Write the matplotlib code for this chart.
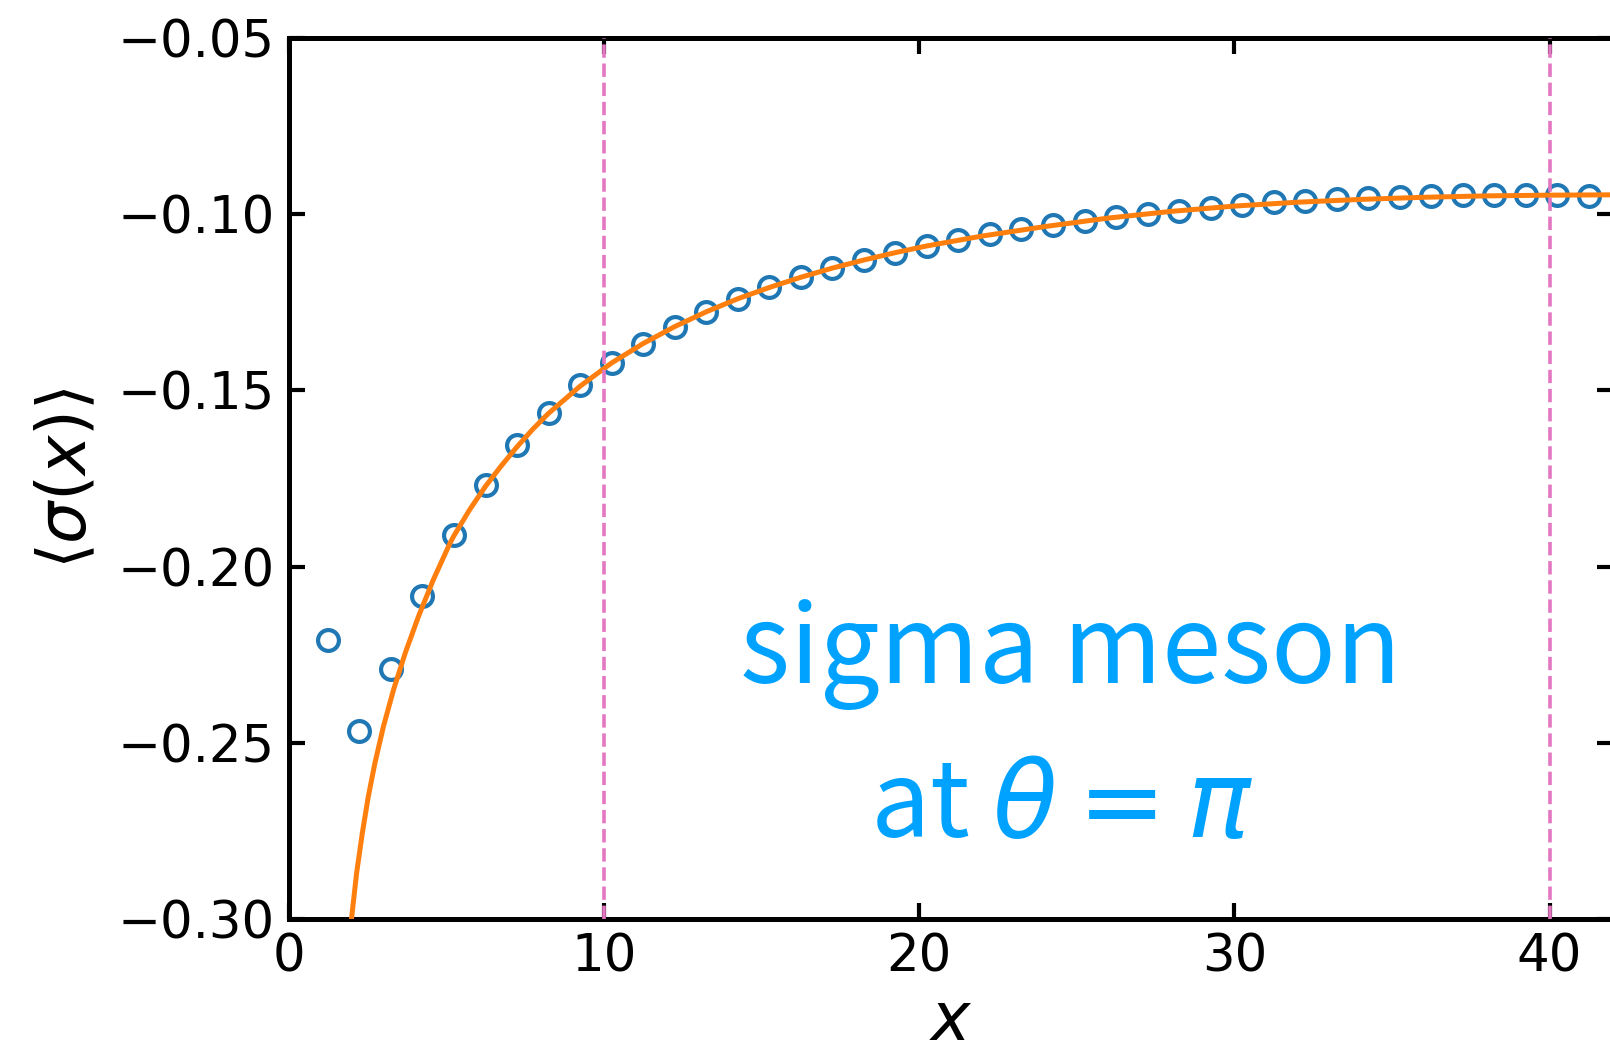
import matplotlib
matplotlib.use("Agg")
import matplotlib.pyplot as plt
from matplotlib.ticker import FuncFormatter

# ---- data ----
site_x = [1.25, 2.25, 3.25, 4.25, 5.25, 6.25, 7.25, 8.25, 9.25, 10.25,
          11.25, 12.25, 13.25, 14.25, 15.25, 16.25, 17.25, 18.25, 19.25, 20.25,
          21.25, 22.25, 23.25, 24.25, 25.25, 26.25, 27.25, 28.25, 29.25, 30.25,
          31.25, 32.25, 33.25, 34.25, 35.25, 36.25, 37.25, 38.25, 39.25, 40.25,
          41.25]
sigma_vals = [-0.2208, -0.2468, -0.2291, -0.2084, -0.1910, -0.1768, -0.1655, -0.1563, -0.1486, -0.1421,
              -0.1367, -0.1320, -0.1277, -0.1241, -0.1208, -0.1179, -0.1154, -0.1130, -0.1109, -0.1090,
              -0.1073, -0.1057, -0.1043, -0.1031, -0.1018, -0.1009, -0.1000, -0.0991, -0.0982, -0.0974,
              -0.0966, -0.0962, -0.0956, -0.0953, -0.0951, -0.0948, -0.0946, -0.0946, -0.0946, -0.0946,
              -0.0947]

fit_x = [2.00, 2.16, 2.34, 2.53, 2.74, 3.01, 3.33, 3.70, 4.12, 4.59, 5.12,
         5.25, 5.75, 6.25, 6.75, 7.25, 7.75, 8.25, 9.25, 10.25, 11.25, 12.25,
         13.25, 14.25, 15.25, 16.25, 17.25, 18.25, 19.25, 20.25, 22.00, 24.00,
         26.00, 28.00, 30.00, 32.00, 34.00, 36.00, 38.00, 40.00, 42.00]
fit_y = [-0.2998, -0.2870, -0.2757, -0.2653, -0.2558, -0.2454, -0.2350, -0.2246, -0.2142, -0.2038, -0.1934,
         -0.1912, -0.1838, -0.1772, -0.1714, -0.1660, -0.1610, -0.1565, -0.1488, -0.1422, -0.1367, -0.1319,
         -0.1277, -0.1240, -0.1208, -0.1179, -0.1153, -0.1130, -0.1109, -0.1090, -0.1062, -0.1035,
         -0.1011, -0.0992, -0.0977, -0.0966, -0.0958, -0.0952, -0.0948, -0.0946, -0.0945]

vlines_x = [10, 40]
x_ticks = [0, 10, 20, 30, 40]
y_ticks = [-0.30, -0.25, -0.20, -0.15, -0.10, -0.05]

text_line1 = "sigma meson"
text_line2 = r"at $\theta=\pi$"

# ---- figure ----
fig = plt.figure(figsize=(8.05, 5.25), dpi=200)
ax = fig.add_axes([0.1792, 0.1248, 0.8224, 0.839])

ax.plot(site_x, sigma_vals, linestyle="none", marker="o", markersize=7.5,
        markerfacecolor="none", markeredgecolor="#1f77b4", markeredgewidth=1.5, zorder=2)
ax.plot(fit_x, fit_y, color="#ff7f0e", linewidth=1.8, zorder=3, solid_joinstyle="round")
for vx in vlines_x:
    ax.axvline(vx, color="#e377c2", linestyle="--", linewidth=1.3, zorder=4)

ax.set_xlim(0, 42)
ax.set_ylim(-0.30, -0.05)
ax.set_xticks(x_ticks)
ax.set_yticks(y_ticks)
ax.yaxis.set_major_formatter(FuncFormatter(lambda v, p: f"{v:.2f}".replace("-", "\u2212")))

for s in ax.spines.values():
    s.set_linewidth(1.8)
ax.tick_params(direction="in", top=True, right=True, length=5.8, width=1.5,
               labelsize=18.5, pad=5)

ax.set_xlabel(r"$x$", fontsize=24, labelpad=2)
ax.set_ylabel(r"$\langle \sigma(x) \rangle$", fontsize=24, labelpad=6)

tcol = "#00a2ff"
ax.text(24.81, -0.2330, text_line1, ha="center", va="baseline", color=tcol,
        fontsize=38.5, family=["Noto Sans CJK JP", "DejaVu Sans"])
ax.text(24.54, -0.2767, text_line2, ha="center", va="baseline", color=tcol,
        fontsize=38, family=["Noto Sans CJK JP", "DejaVu Sans"])

fig.savefig("out.png", dpi=200)
